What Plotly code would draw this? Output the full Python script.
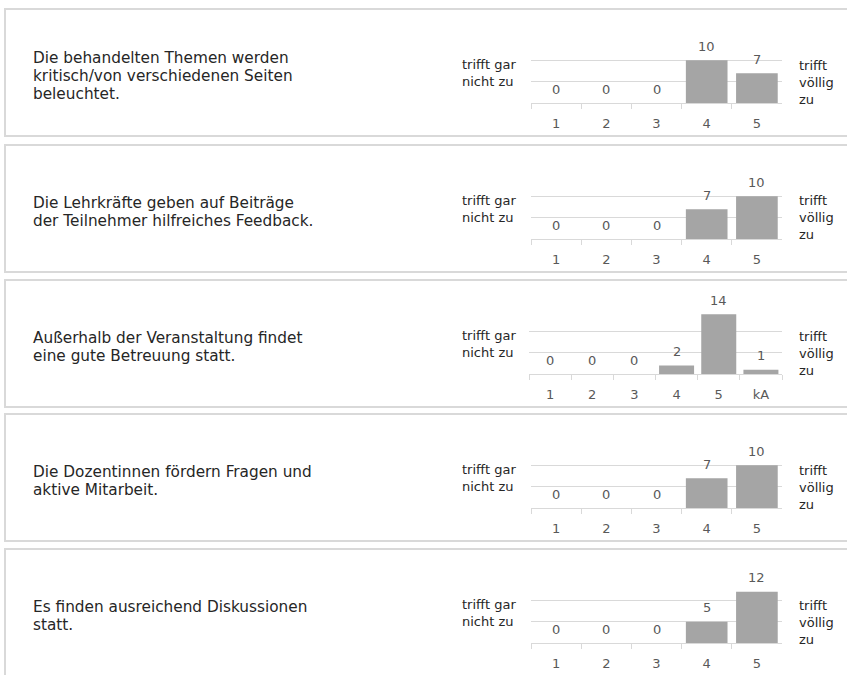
import plotly.graph_objects as go

W, H = 847, 675

questions = [
    "Die behandelten Themen werden<br>kritisch/von verschiedenen Seiten<br>beleuchtet.",
    "Die Lehrkräfte geben auf Beiträge<br>der Teilnehmer hilfreiches Feedback.",
    "Außerhalb der Veranstaltung findet<br>eine gute Betreuung statt.",
    "Die Dozentinnen fördern Fragen und<br>aktive Mitarbeit.",
    "Es finden ausreichend Diskussionen<br>statt.",
]
cats_std = ["1", "2", "3", "4", "5"]
cats_ka = ["1", "2", "3", "4", "5", "kA"]
vals_q1 = [0, 0, 0, 10, 7]
vals_q2 = [0, 0, 0, 7, 10]
vals_q3 = [0, 0, 0, 2, 14, 1]
vals_q4 = [0, 0, 0, 7, 10]
vals_q5 = [0, 0, 0, 5, 12]
label_low = "trifft gar<br>nicht zu"
label_high = "trifft<br>völlig<br>zu"

panels = [
    (questions[0], cats_std, vals_q1),
    (questions[1], cats_std, vals_q2),
    (questions[2], cats_ka, vals_q3),
    (questions[3], cats_std, vals_q4),
    (questions[4], cats_std, vals_q5),
]

# layout in pixels (top of each framed box)
panel_tops = [9, 145, 280, 414, 549]
panel_h = 127
line_h = 18
GRID = "#d9d9d9"
BAR = "#a5a5a5"
LBL = "#595959"
TXT = "#262626"
FONT = "DejaVu Sans"


def px(x):
    return x / W


def py(y):
    return 1 - y / H


fig = go.Figure()
shapes = []
annotations = []

for i, (q, cats, vals) in enumerate(panels):
    n = i + 1
    top = panel_tops[i]
    xa = "x" if n == 1 else f"x{n}"
    ya = "y" if n == 1 else f"y{n}"

    fig.add_trace(go.Bar(
        x=cats, y=vals, marker_color=BAR, marker_line_width=0,
        xaxis=xa, yaxis=ya, showlegend=False, hoverinfo="x+y",
    ))

    x_left = 531 if len(cats) == 5 else 529
    fig.update_layout(**{
        ("xaxis" if n == 1 else f"xaxis{n}"): dict(
            domain=[px(x_left), px(782)], anchor=ya, type="category",
            showline=True, linecolor=GRID, linewidth=1.3,
            ticks="outside", tickson="boundaries", ticklen=5, tickcolor=GRID,
            tickwidth=1.3, showgrid=False, ticklabelstandoff=8,
            tickfont=dict(family=FONT, size=13, color=LBL),
        ),
        ("yaxis" if n == 1 else f"yaxis{n}"): dict(
            domain=[py(top + 94), py(top + 30)], anchor=xa,
            range=[0, 15], dtick=5, showgrid=True, gridcolor=GRID,
            gridwidth=1.3, zeroline=False, showticklabels=False,
        ),
    })

    # value labels: category index on x (category axes take the position index)
    for j, v in enumerate(vals):
        annotations.append(dict(
            x=j, y=v, xref=xa, yref=ya, text=str(v), showarrow=False,
            yanchor="middle", yshift=14,
            font=dict(family=FONT, size=13, color=LBL),
        ))

    shapes.append(dict(
        type="rect", xref="paper", yref="paper",
        x0=px(5), x1=px(852), y0=py(top + panel_h), y1=py(top),
        line=dict(color=GRID, width=2),
    ))

    # question text, one annotation per line for tighter line spacing
    lines = q.split("<br>")
    first = top + 67 - (len(lines) - 1) * line_h / 2
    for k, line in enumerate(lines):
        annotations.append(dict(
            x=px(31), y=py(first + k * line_h), xref="paper", yref="paper",
            text=line, showarrow=False, xanchor="left", yanchor="middle",
            font=dict(family=FONT, size=15.3, color=TXT),
        ))
    annotations.append(dict(
        x=px(460), y=py(top + 64), xref="paper", yref="paper", text=label_low,
        showarrow=False, xanchor="left", yanchor="middle", align="left",
        font=dict(family=FONT, size=13, color=TXT),
    ))
    annotations.append(dict(
        x=px(797), y=py(top + 73), xref="paper", yref="paper", text=label_high,
        showarrow=False, xanchor="left", yanchor="middle", align="left",
        font=dict(family=FONT, size=13, color=TXT),
    ))

fig.update_layout(
    width=W, height=H, margin=dict(l=0, r=0, t=0, b=0),
    paper_bgcolor="white", plot_bgcolor="white",
    bargap=0.17, shapes=shapes, annotations=annotations,
    font=dict(family=FONT),
)

# page body has a default 8px margin; drop it so the figure fills the window
fig.write_html(
    "out.html",
    config={"displayModeBar": False},
    post_script="document.body.style.margin = '0';",
)
